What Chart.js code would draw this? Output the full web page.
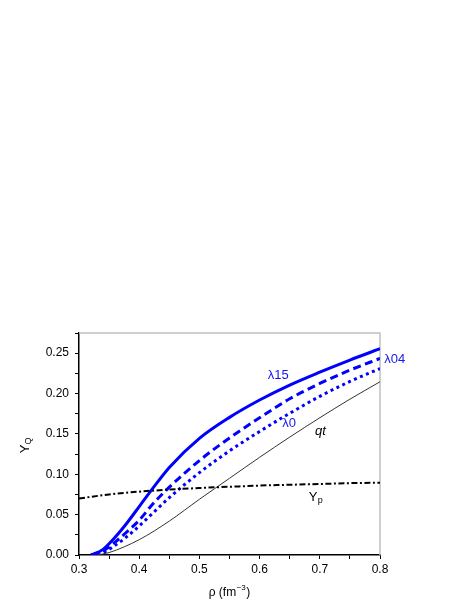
<!DOCTYPE html>
<html>
<head>
<meta charset="utf-8">
<script src="https://cdn.jsdelivr.net/npm/chart.js@4"></script>
<style>
  body { margin: 0; background: #fff; }
  canvas { display: block; }
</style>
</head>
<body>
<canvas id="yqChart" width="469" height="607"></canvas>
<script>
// density grid (fm^-3) and fractions
const rhoBlue = [0.32, 0.34, 0.36, 0.38, 0.40, 0.42, 0.45, 0.50, 0.55, 0.60, 0.65, 0.70, 0.75, 0.80];
const yLambda15 = [0, 0.007, 0.022, 0.040, 0.060, 0.080, 0.1085, 0.1445, 0.1705, 0.192, 0.2105, 0.2265, 0.2415, 0.2555];
const yLambda04 = [0, 0.005, 0.016, 0.029, 0.043, 0.061, 0.084, 0.117, 0.145, 0.170, 0.1935, 0.2125, 0.229, 0.2435];
const yLambda0 = [0, 0.003, 0.012, 0.023, 0.036, 0.050, 0.071, 0.102, 0.129, 0.153, 0.1755, 0.1965, 0.215, 0.231];

const rhoQt = [0.33, 0.35, 0.40, 0.45, 0.50, 0.55, 0.60, 0.65, 0.70, 0.75, 0.80];
const yQt = [0, 0.003, 0.019, 0.042, 0.069, 0.095, 0.121, 0.146, 0.170, 0.193, 0.2146];

const rhoYp = [0.30, 0.35, 0.40, 0.45, 0.50, 0.55, 0.60, 0.65, 0.70, 0.75, 0.80];
const yYp = [0.070, 0.075, 0.0785, 0.081, 0.083, 0.0845, 0.086, 0.087, 0.088, 0.089, 0.0895];

const FONT = "'Liberation Sans', Arial, sans-serif";

function toPoints(xs, ys) {
  return xs.map((x, i) => ({ x: x, y: ys[i] }));
}

function lineSet(label, xs, ys, color, width, dash) {
  return {
    label: label,
    data: toPoints(xs, ys),
    borderColor: color,
    borderWidth: width,
    borderDash: dash,
    pointRadius: 0,
    cubicInterpolationMode: "monotone",
    fill: false,
  };
}

// labels, frame and axis titles
const decorations = {
  id: "decorations",
  beforeDatasetsDraw(chart) {
    const { ctx, chartArea } = chart;
    ctx.save();
    ctx.strokeStyle = "#c0c0c0";
    ctx.lineWidth = 1.5;
    ctx.beginPath();
    ctx.moveTo(chartArea.left, chartArea.top);
    ctx.lineTo(chartArea.right, chartArea.top);
    ctx.lineTo(chartArea.right, chartArea.bottom);
    ctx.stroke();
    ctx.restore();
  },
  afterDraw(chart) {
    const { ctx } = chart;
    const xs = chart.scales.x;
    const ys = chart.scales.y;
    ctx.save();
    ctx.textAlign = "center";
    ctx.textBaseline = "middle";

    ctx.fillStyle = "#1515f0";
    ctx.font = "13px " + FONT;
    ctx.fillText("λ15", xs.getPixelForValue(0.631), ys.getPixelForValue(0.222));
    ctx.fillText("λ0", xs.getPixelForValue(0.649), ys.getPixelForValue(0.163));
    ctx.fillText("λ04", xs.getPixelForValue(0.8246), ys.getPixelForValue(0.2423));

    ctx.fillStyle = "#000";
    ctx.font = "italic 13px " + FONT;
    ctx.fillText("qt", xs.getPixelForValue(0.701), ys.getPixelForValue(0.153));

    // Y_p
    const ypx = xs.getPixelForValue(0.689);
    const ypy = ys.getPixelForValue(0.0717);
    ctx.font = "13px " + FONT;
    ctx.fillText("Y", ypx, ypy);
    ctx.font = "9px " + FONT;
    ctx.fillText("p", ypx + 7, ypy + 3);

    // y axis title Y_Q
    ctx.save();
    ctx.translate(25, 446);
    ctx.rotate(-Math.PI / 2);
    ctx.font = "13px " + FONT;
    ctx.fillText("Y", -3, 0);
    ctx.font = "9px " + FONT;
    ctx.fillText("Q", 5, 4);
    ctx.restore();

    // x axis title
    ctx.textAlign = "left";
    ctx.textBaseline = "alphabetic";
    ctx.font = "12px " + FONT;
    const part1 = "ρ (fm";
    const w1 = ctx.measureText(part1).width;
    ctx.font = "8px " + FONT;
    const sup = "−3";
    const w2 = ctx.measureText(sup).width;
    ctx.font = "12px " + FONT;
    const w3 = ctx.measureText(")").width;
    let x0 = 229 - (w1 + w2 + w3) / 2;
    const base = 596;
    ctx.fillText(part1, x0, base);
    ctx.font = "8px " + FONT;
    ctx.fillText(sup, x0 + w1 + 0.5, base - 6);
    ctx.font = "12px " + FONT;
    ctx.fillText(")", x0 + w1 + w2 + 1, base);
    ctx.restore();
  },
};

let chart;
function initializeChart() {
  const ctx = document.getElementById("yqChart").getContext("2d");
  chart = new Chart(ctx, {
    type: "line",
    data: {
      datasets: [
        lineSet("Yp", rhoYp, yYp, "#000", 2, [6, 2.5, 2, 2.5]),
        lineSet("qt", rhoQt, yQt, "#333", 1, []),
        lineSet("λ0", rhoBlue, yLambda0, "#0000ff", 3, [3, 3.5]),
        lineSet("λ04", rhoBlue, yLambda04, "#0000ff", 3, [8, 4.5]),
        lineSet("λ15", rhoBlue, yLambda15, "#0000ff", 3, []),
      ],
    },
    options: {
      responsive: false,
      animation: false,
      layout: {
        padding: { left: 0, right: 89, top: 333, bottom: 0 },
      },
      plugins: {
        legend: { display: false },
        tooltip: { enabled: false },
      },
      scales: {
        x: {
          type: "linear",
          min: 0.3,
          max: 0.8,
          afterFit: (scale) => { scale.height = 52; },
          border: { display: true, color: "#000", width: 1.5 },
          grid: { drawOnChartArea: false, drawTicks: true, tickLength: 4, color: "#000" },
          ticks: {
            stepSize: 0.05,
            padding: 3,
            maxRotation: 0,
            autoSkip: false,
            color: "#000",
            font: { family: FONT, size: 12 },
            callback: (v) => (Math.round(v * 100) % 10 === 0 ? v.toFixed(1) : ""),
          },
        },
        y: {
          min: 0,
          max: 0.275,
          afterFit: (scale) => { scale.width = 79; },
          border: { display: true, color: "#000", width: 1.5 },
          grid: { drawOnChartArea: false, drawTicks: true, tickLength: 4, color: "#000" },
          ticks: {
            stepSize: 0.025,
            padding: 6,
            autoSkip: false,
            color: "#000",
            font: { family: FONT, size: 12 },
            callback: (v) => (Math.round(v * 1000) % 50 === 0 ? v.toFixed(2) : ""),
          },
        },
      },
    },
    plugins: [decorations],
  });
}

document.addEventListener("DOMContentLoaded", () => {
  initializeChart();
});
</script>
</body>
</html>
